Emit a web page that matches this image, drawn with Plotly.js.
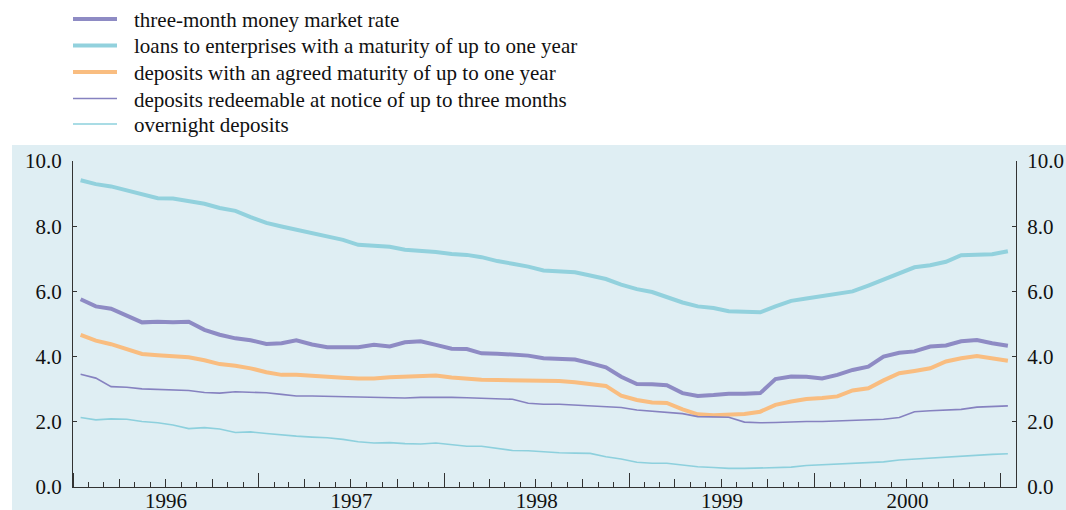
<!DOCTYPE html>
<html>
<head>
<meta charset="utf-8">
<script src="https://cdn.plot.ly/plotly-3.0.1.min.js"></script>
<style>html,body{margin:0;padding:0;background:#fff;}#chart{width:1066px;height:510px;}</style>
</head>
<body>
<div id="chart"></div>
<script>
const months = [
'1996-01-16','1996-02-15','1996-03-16','1996-04-16','1996-05-16','1996-06-16','1996-07-16','1996-08-16','1996-09-16','1996-10-16','1996-11-16','1996-12-16',
'1997-01-16','1997-02-15','1997-03-16','1997-04-16','1997-05-16','1997-06-16','1997-07-16','1997-08-16','1997-09-16','1997-10-16','1997-11-16','1997-12-16',
'1998-01-16','1998-02-15','1998-03-16','1998-04-16','1998-05-16','1998-06-16','1998-07-16','1998-08-16','1998-09-16','1998-10-16','1998-11-16','1998-12-16',
'1999-01-16','1999-02-15','1999-03-16','1999-04-16','1999-05-16','1999-06-16','1999-07-16','1999-08-16','1999-09-16','1999-10-16','1999-11-16','1999-12-16',
'2000-01-16','2000-02-15','2000-03-16','2000-04-16','2000-05-16','2000-06-16','2000-07-16','2000-08-16','2000-09-16','2000-10-16','2000-11-16','2000-12-16',
'2001-01-16'];

const threeMonthRate = [5.76,5.54,5.47,5.25,5.05,5.07,5.05,5.07,4.82,4.67,4.56,4.50,4.39,4.41,4.50,4.37,4.29,4.29,4.29,4.36,4.31,4.44,4.47,4.36,4.24,4.23,4.10,4.09,4.05,4.03,3.95,3.94,3.91,3.80,3.67,3.38,3.16,3.15,3.12,2.88,2.79,2.82,2.86,2.86,2.88,3.31,3.39,3.38,3.33,3.44,3.59,3.69,4.00,4.12,4.16,4.31,4.34,4.47,4.51,4.41,4.33];
const loansEnterprises = [9.41,9.29,9.22,9.10,8.99,8.86,8.85,8.78,8.69,8.56,8.47,8.28,8.10,7.99,7.89,7.76,7.67,7.58,7.43,7.41,7.37,7.28,7.25,7.21,7.15,7.12,7.05,6.93,6.85,6.76,6.64,6.61,6.59,6.49,6.38,6.21,6.07,5.98,5.82,5.66,5.54,5.49,5.39,5.38,5.36,5.54,5.71,5.78,5.86,5.95,6.00,6.18,6.36,6.54,6.74,6.80,6.91,7.11,7.14,7.14,7.23];
const depositsAgreed = [4.67,4.49,4.38,4.24,4.08,4.04,4.02,3.98,3.89,3.77,3.72,3.64,3.52,3.44,3.44,3.42,3.40,3.35,3.33,3.33,3.37,3.39,3.42,3.42,3.36,3.32,3.29,3.28,3.27,3.28,3.27,3.25,3.21,3.15,3.10,2.80,2.67,2.59,2.58,2.38,2.23,2.20,2.23,2.24,2.31,2.52,2.62,2.70,2.73,2.78,2.96,3.03,3.27,3.49,3.56,3.64,3.85,3.95,4.02,3.95,3.87];
const depositsNotice = [3.46,3.34,3.08,3.06,3.01,2.99,2.97,2.96,2.90,2.88,2.92,2.91,2.89,2.84,2.79,2.79,2.78,2.77,2.74,2.74,2.74,2.73,2.75,2.76,2.75,2.74,2.73,2.71,2.69,2.57,2.54,2.54,2.52,2.49,2.47,2.44,2.36,2.33,2.30,2.25,2.16,2.16,2.14,1.99,1.97,1.98,2.00,2.01,2.01,2.03,2.03,2.05,2.08,2.13,2.31,2.34,2.36,2.38,2.45,2.47,2.49];
const overnightDeposits = [2.13,2.06,2.09,2.08,2.01,1.97,1.90,1.79,1.82,1.78,1.67,1.69,1.64,1.59,1.56,1.53,1.51,1.46,1.39,1.35,1.36,1.33,1.32,1.35,1.29,1.25,1.25,1.19,1.12,1.11,1.07,1.05,1.04,1.03,0.93,0.86,0.76,0.73,0.73,0.68,0.62,0.60,0.57,0.57,0.58,0.59,0.61,0.66,0.68,0.70,0.72,0.75,0.77,0.83,0.86,0.88,0.93,0.96,0.98,1.00,1.02];

const seriesNames = [
  'three-month money market rate',
  'loans to enterprises with a maturity of up to one year',
  'deposits with an agreed maturity of up to one year',
  'deposits redeemable at notice of up to three months',
  'overnight deposits'
];
const seriesValues = [threeMonthRate, loansEnterprises, depositsAgreed, depositsNotice, overnightDeposits];
const seriesColors = ['#8e8bc4', '#92d1dd', '#f9bd80', '#8682c0', '#8dd0dd'];
const seriesWidths = [4, 4, 4, 1.6, 1.6];

const FONT = '"Liberation Serif", "Times New Roman", "DejaVu Serif", serif';
const W = 1066, H = 510, L = 73, R = 50, T = 161, B = 23;
const PW = W - L - R, PH = H - T - B;
const px2x = p => (p - L) / PW;
const py2y = p => (H - B - p) / PH;

const traces = seriesValues.map((vals, k) => ({
  type: 'scatter', mode: 'lines', x: months, y: vals, name: seriesNames[k],
  line: {color: seriesColors[k], width: seriesWidths[k]},
  showlegend: false, hoverinfo: 'x+y'
}));
// helper traces so the overlay axes (quarter ticks, right axis) are drawn
traces.push({type:'scatter', mode:'lines', x: months, y: overnightDeposits, xaxis:'x2', yaxis:'y',
  line:{width:0, color:'rgba(0,0,0,0)'}, opacity:0, showlegend:false, hoverinfo:'skip'});
traces.push({type:'scatter', mode:'lines', x: months, y: overnightDeposits, xaxis:'x', yaxis:'y2',
  line:{width:0, color:'rgba(0,0,0,0)'}, opacity:0, showlegend:false, hoverinfo:'skip'});

const shapes = [{
  type:'rect', xref:'paper', yref:'paper', layer:'below',
  x0: px2x(12), x1: px2x(1070), y0: py2y(515), y1: py2y(145),
  fillcolor:'rgb(223,238,243)', line:{width:0}
}];
const annotations = [];
const legendRows = [19, 45.5, 72, 98.5, 124];
seriesNames.forEach((n, k) => {
  shapes.push({type:'line', xref:'paper', yref:'paper', x0: px2x(73), x1: px2x(117), y0: py2y(legendRows[k]), y1: py2y(legendRows[k]),
    line:{color: seriesColors[k], width: k < 3 ? 4 : 1.6}});
  annotations.push({xref:'paper', yref:'paper', x: px2x(132), y: py2y(legendRows[k] + 1), xanchor:'left', yanchor:'middle',
    text: n, showarrow:false, font:{family: FONT, size: 21, color:'#111111'}});
});

const yCommon = {range:[0,10], dtick:2, tick0:0, tickformat:'.1f', ticks:'inside', ticklen:4, tickcolor:'#333',
  showline:true, linecolor:'#333', linewidth:1, showgrid:false, zeroline:false, ticklabelstandoff:6,
  tickfont:{family: FONT, size: 21, color:'#111111'}, fixedrange:true};

const layout = {
  width: W, height: H,
  font: {family: FONT},
  margin: {l: L, r: R, t: T, b: B, pad: 0},
  paper_bgcolor: '#ffffff', plot_bgcolor: 'rgba(0,0,0,0)',
  showlegend: false,
  xaxis: {type:'date', range:['1996-01-01','2001-02-01'], tick0:'1996-01-01', dtick:'M12', ticklabelmode:'period',
    tickformat:'%Y', ticks:'inside', ticklen:14, tickcolor:'#333', showline:true, linecolor:'#333', linewidth:1,
    showgrid:false, zeroline:false, tickfont:{family: FONT, size: 21, color:'#111111'}, ticklabelstandoff:-5,
    minor:{dtick:'M1', tick0:'1996-01-01', ticks:'inside', ticklen:5, tickcolor:'#333', showgrid:false}, fixedrange:true},
  xaxis2: {type:'date', overlaying:'x', anchor:'y', range:['1996-01-01','2001-02-01'], tick0:'1996-01-01', dtick:'M3',
    ticks:'inside', ticklen:8, tickcolor:'#333', showticklabels:false, showline:false, showgrid:false, zeroline:false, fixedrange:true},
  yaxis: Object.assign({side:'left'}, yCommon),
  yaxis2: Object.assign({side:'right', overlaying:'y', anchor:'x'}, yCommon),
  shapes: shapes,
  annotations: annotations
};

Plotly.newPlot('chart', traces, layout, {displayModeBar:false, staticPlot:true});
</script>
</body>
</html>
